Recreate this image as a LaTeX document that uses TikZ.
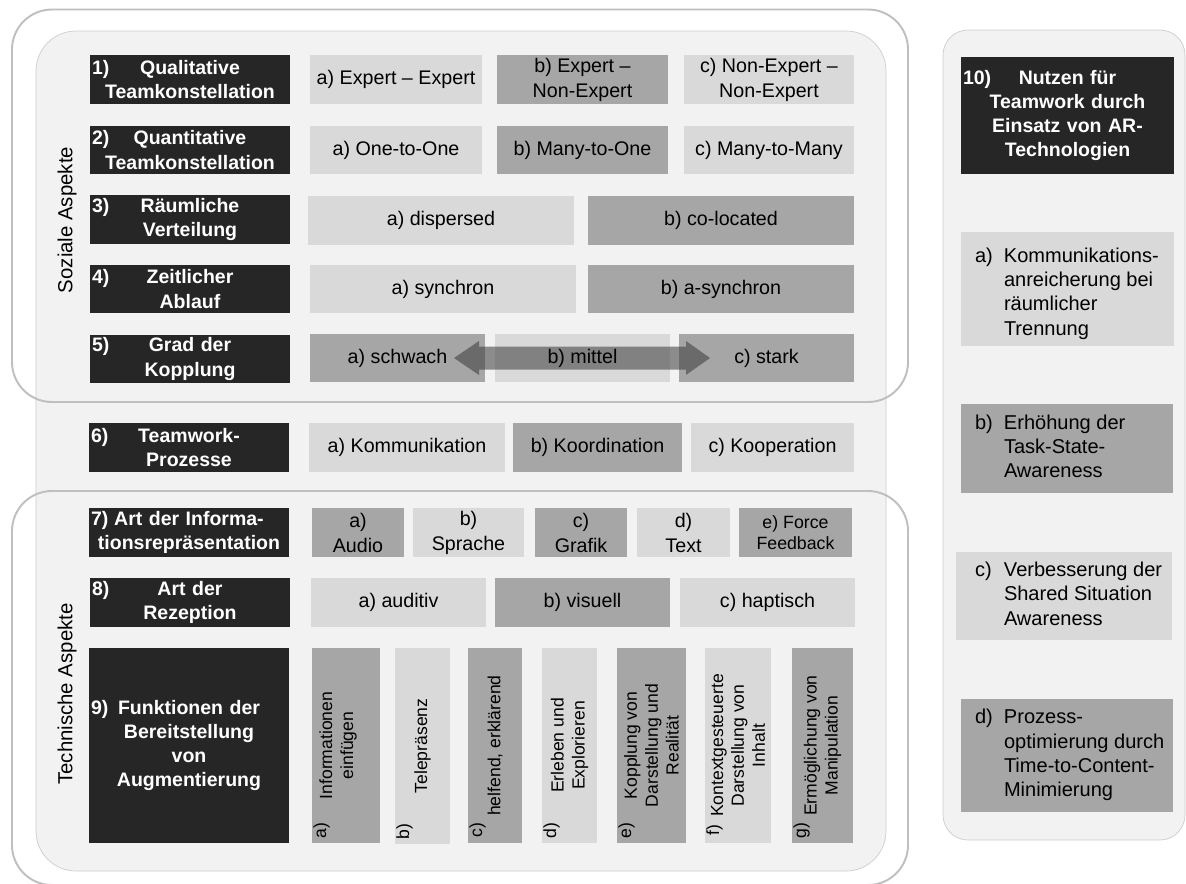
\documentclass[tikz,border=0pt]{standalone}
\usepackage{fontspec}
\setmainfont{Liberation Sans}
\definecolor{schwarz}{RGB}{38,38,38}
\definecolor{hell}{RGB}{217,217,217}
\definecolor{dunkel}{RGB}{166,166,166}
\definecolor{grund}{RGB}{242,242,242}
\definecolor{rahmen}{RGB}{191,191,191}
\definecolor{rand}{RGB}{205,205,205}
\definecolor{pfeilgrau}{RGB}{57,57,57}

%% Kasten von (x1,y1) bis (x2,y2), Angaben in Pixeln
\newcommand{\kasten}[7]{%
  \node[#2, minimum width={(#5-#3)*0.02cm}, minimum height={(#6-#4)*0.02cm}]
    (#1) at ({(#3+#5)/2},{(#4+#6)/2}) {#7};}
%% Nummer links in der ersten Zeile
\newcommand{\nr}[2]{\noindent\rlap{#1}\hfill #2\hfill\null}

\begin{document}
\begin{tikzpicture}[x=0.02cm, y=-0.02cm,
    kopf/.style={fill=schwarz, text=white, font=\bfseries\fontsize{11.1}{13.8}\selectfont,
      align=center, inner sep=0pt, text width=3.92cm},
    feld/.style={font=\fontsize{11.2}{14.2}\selectfont, align=center, inner sep=0pt},
    hellfeld/.style={feld, fill=hell},
    dunkelfeld/.style={feld, fill=dunkel},
    senkrecht/.style={rotate=90, font=\fontsize{10}{11.9}\selectfont, align=center, inner sep=0pt},
    nutzen/.style={anchor=west, inner sep=0pt, font=\fontsize{11.4}{13.8}\selectfont},
    aspekt/.style={rotate=90, inner sep=0pt, font=\fontsize{11.6}{14}\selectfont},
    pfeil/.style={fill=pfeilgrau, opacity=.55},
    rahmenlinie/.style={draw=rahmen, line width=1.1pt, rounded corners=0.8cm}]
    \useasboundingbox (0,0) rectangle (1186,883);

    %% Hintergrund und Rahmen
    \filldraw[fill=grund, draw=rand, rounded corners=0.8cm] (36,31) rectangle (886,871);
    \filldraw[fill=grund, draw=rand, rounded corners=0.5cm] (943,30) rectangle (1185,840);
    \draw[rahmenlinie] (12,9.5) rectangle (908,402);
    \draw[rahmenlinie] (12,491) rectangle (908,885);

    \node[aspekt] (sozial) at (67,220) {Soziale Aspekte};
    \node[aspekt] (technisch) at (67,694) {Technische Aspekte};

    %% Zeile 1
    \kasten{k1}{kopf}{90}{55}{290}{104}{\nr{1)}{Qualitative}\\Teamkonstellation}
    \kasten{w1a}{hellfeld}{310}{55}{482}{104}{a) Expert – Expert}
    \kasten{w1b}{dunkelfeld}{497}{55}{668}{104}{b) Expert –\\Non-Expert}
    \kasten{w1c}{hellfeld}{684}{55}{854}{104}{c) Non-Expert –\\Non-Expert}

    %% Zeile 2
    \kasten{k2}{kopf}{90}{126}{290}{174}{\nr{2)}{Quantitative}\\Teamkonstellation}
    \kasten{w2a}{hellfeld}{310}{126}{482}{174}{a) One-to-One}
    \kasten{w2b}{dunkelfeld}{497}{126}{668}{174}{b) Many-to-One}
    \kasten{w2c}{hellfeld}{684}{126}{854}{174}{c) Many-to-Many}

    %% Zeile 3
    \kasten{k3}{kopf}{90}{195}{290}{244}{\nr{3)}{Räumliche}\\Verteilung}
    \kasten{w3a}{hellfeld}{308}{196}{574}{245}{a) dispersed}
    \kasten{w3b}{dunkelfeld}{588}{196}{854}{245}{b) co-located}

    %% Zeile 4
    \kasten{k4}{kopf}{90}{265}{290}{313}{\nr{4)}{Zeitlicher}\\Ablauf}
    \kasten{w4a}{hellfeld}{310}{265}{576}{313}{a) synchron}
    \kasten{w4b}{dunkelfeld}{588}{265}{854}{313}{b) a-synchron}

    %% Zeile 5
    \kasten{k5}{kopf}{90}{335}{290}{383}{\nr{5)}{Grad der}\\Kopplung}
    \kasten{w5a}{dunkelfeld}{310}{334}{485}{382}{a) schwach}
    \kasten{w5b}{hellfeld}{495}{334}{670}{382}{}
    \kasten{w5c}{dunkelfeld}{679}{334}{854}{382}{c) stark}
    \fill[pfeil] (454,358) -- (479,341) -- (479,346.5) -- (686,346.5) -- (686,341)
      -- (710,358) -- (686,375) -- (686,369.5) -- (479,369.5) -- (479,375) -- cycle;
    \node[feld] (t5b) at (w5b.center) {b) mittel};

    %% Zeile 6
    \kasten{k6}{kopf}{89}{423}{289}{472}{\nr{6)}{Teamwork-}\\Prozesse}
    \kasten{w6a}{hellfeld}{309}{423}{505}{472}{a) Kommunikation}
    \kasten{w6b}{dunkelfeld}{513}{423}{682}{472}{b) Koordination}
    \kasten{w6c}{hellfeld}{691}{423}{854}{472}{c) Kooperation}

    %% Zeile 7
    \kasten{k7}{kopf}{89}{508}{289}{557}{\nr{7)}{Art der Informa-}\\tionsrepräsentation}
    \kasten{w7a}{dunkelfeld}{312}{508}{404}{557}{a)\\Audio}
    \kasten{w7b}{hellfeld}{413}{508}{524}{557}{b)\\Sprache}
    \kasten{w7c}{dunkelfeld}{535}{508}{627}{557}{c)\\Grafik}
    \kasten{w7d}{hellfeld}{637}{508}{730}{557}{d)\\Text}
    \kasten{w7e}{dunkelfeld, font=\fontsize{10.1}{11.9}\selectfont}{739}{508}{852}{557}{e) Force\\Feedback}

    %% Zeile 8
    \kasten{k8}{kopf}{90}{578}{290}{627}{\nr{8)}{Art der}\\Rezeption}
    \kasten{w8a}{hellfeld}{311}{578}{486}{627}{a) auditiv}
    \kasten{w8b}{dunkelfeld}{495}{578}{670}{627}{b) visuell}
    \kasten{w8c}{hellfeld}{680}{578}{855}{627}{c) haptisch}

    %% Zeile 9
    \kasten{k9}{kopf}{89}{648}{289}{843}{\nr{9)}{Funktionen der}\\Bereitstellung\\von\\Augmentierung}
    \kasten{w9a}{dunkelfeld}{312}{648}{380}{843}{}
    \kasten{w9b}{hellfeld}{395}{648}{450}{844}{}
    \kasten{w9c}{dunkelfeld}{468}{648}{522}{843}{}
    \kasten{w9d}{hellfeld}{542}{648}{597}{843}{}
    \kasten{w9e}{dunkelfeld}{617}{648}{686}{843}{}
    \kasten{w9f}{hellfeld}{705}{648}{771}{843}{}
    \kasten{w9g}{dunkelfeld}{792}{648}{853}{843}{}
    \node[senkrecht] (t9a) at ([xshift=-0.16cm]w9a.center) {Informationen\\einfügen};
    \node[senkrecht] (t9b) at (w9b.center) {Telepräsenz};
    \node[senkrecht] (t9c) at (w9c.center) {helfend, erklärend};
    \node[senkrecht] (t9d) at (w9d.center) {Erleben und\\Explorieren};
    \node[senkrecht] (t9e) at (w9e.center) {Kopplung von\\Darstellung und\\Realität};
    \node[senkrecht] (t9f) at (w9f.center) {Kontextgesteuerte\\Darstellung von\\Inhalt};
    \node[senkrecht] (t9g) at (w9g.center) {Ermöglichung von\\Manipulation};
    \node[senkrecht] (l9a) at ([xshift=0.2cm, yshift=0.26cm]w9a.south west) {a)};
    \node[senkrecht] (l9b) at ([xshift=0.2cm, yshift=0.26cm]w9b.south west) {b)};
    \node[senkrecht] (l9c) at ([xshift=0.2cm, yshift=0.26cm]w9c.south west) {c)};
    \node[senkrecht] (l9d) at ([xshift=0.2cm, yshift=0.26cm]w9d.south west) {d)};
    \node[senkrecht] (l9e) at ([xshift=0.2cm, yshift=0.26cm]w9e.south west) {e)};
    \node[senkrecht] (l9f) at ([xshift=0.2cm, yshift=0.26cm]w9f.south west) {f)};
    \node[senkrecht] (l9g) at ([xshift=0.2cm, yshift=0.26cm]w9g.south west) {g)};

    %% Nutzen (rechte Spalte)
    \kasten{k10}{kopf, text width=4.18cm}{961}{57}{1174}{174}{\nr{10)}{Nutzen für}\\Teamwork durch\\Einsatz von AR-\\Technologien}
    \kasten{n1}{hellfeld}{961}{232}{1174}{346}{}
    \kasten{n2}{dunkelfeld}{961}{404}{1173}{493}{}
    \kasten{n3}{hellfeld}{956}{552}{1172}{640}{}
    \kasten{n4}{dunkelfeld}{961}{699}{1173}{812}{}
    \node[nutzen] (t1) at ([xshift=0.28cm, yshift=-0.1cm]n1.west) {\begin{tabular}{@{}p{16.5pt}@{}l@{}}
      a) & Kommunikations-\\ & anreicherung bei\\ & räumlicher\\ & Trennung\end{tabular}};
    \node[nutzen] (t2) at ([xshift=0.28cm]n2.west) {\begin{tabular}{@{}p{16.5pt}@{}l@{}}
      b) & Erhöhung der\\ & Task-State-\\ & Awareness\end{tabular}};
    \node[nutzen] (t3) at ([xshift=0.38cm]n3.west) {\begin{tabular}{@{}p{16.5pt}@{}l@{}}
      c) & Verbesserung der\\ & Shared Situation\\ & Awareness\end{tabular}};
    \node[nutzen] (t4) at ([xshift=0.28cm]n4.west) {\begin{tabular}{@{}p{16.5pt}@{}l@{}}
      d) & Prozess-\\ & optimierung durch\\ & Time-to-Content-\\ & Minimierung\end{tabular}};
\end{tikzpicture}
\end{document}
